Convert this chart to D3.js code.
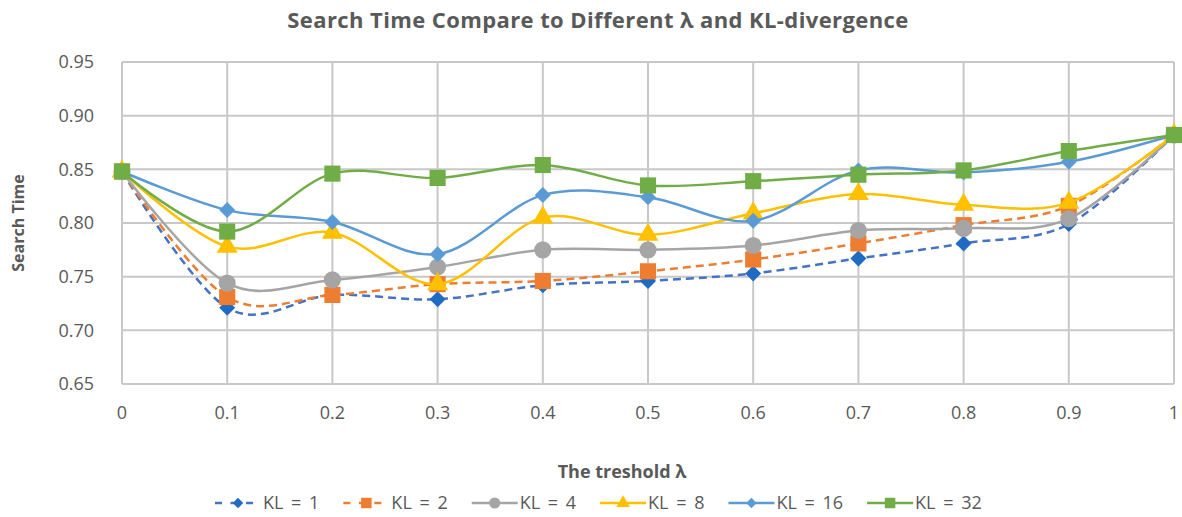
<!DOCTYPE html>
<html>
<head>
<meta charset="utf-8">
<script src="https://cdn.jsdelivr.net/npm/d3@7"></script>
<style>
  body { margin: 0; background: #fff; }
  text { font-family: "Open Sans", "Noto Sans", sans-serif; fill: #595959; }
</style>
</head>
<body>
<script>
    var width = 1182;
    var height = 517;

    var lambdas = [0, 0.1, 0.2, 0.3, 0.4, 0.5, 0.6, 0.7, 0.8, 0.9, 1];
    var xTickLabels = ["0", "0.1", "0.2", "0.3", "0.4", "0.5", "0.6", "0.7", "0.8", "0.9", "1"];
    var yTicks = [0.65, 0.70, 0.75, 0.80, 0.85, 0.90, 0.95];

    var kl1  = [0.848, 0.721, 0.733, 0.729, 0.742, 0.746, 0.753, 0.767, 0.781, 0.799, 0.882];
    var kl2  = [0.848, 0.731, 0.733, 0.743, 0.746, 0.755, 0.766, 0.781, 0.798, 0.816, 0.882];
    var kl4  = [0.848, 0.744, 0.747, 0.759, 0.775, 0.775, 0.779, 0.793, 0.795, 0.804, 0.882];
    var kl8  = [0.848, 0.778, 0.791, 0.743, 0.805, 0.789, 0.809, 0.827, 0.817, 0.819, 0.882];
    var kl16 = [0.848, 0.812, 0.801, 0.771, 0.826, 0.824, 0.802, 0.849, 0.847, 0.857, 0.882];
    var kl32 = [0.848, 0.792, 0.846, 0.842, 0.854, 0.835, 0.839, 0.845, 0.849, 0.867, 0.882];

    // name, values, line colour, marker colour, marker shape, dashed?
    var series = [
      {name: "KL = 1",  values: kl1,  color: "#4472C4", mark: "#1F6BC4", shape: "diamond",  dash: true},
      {name: "KL = 2",  values: kl2,  color: "#ED7D31", mark: "#ED7D31", shape: "square",   dash: true},
      {name: "KL = 4",  values: kl4,  color: "#A5A5A5", mark: "#A5A5A5", shape: "circle",   dash: false},
      {name: "KL = 8",  values: kl8,  color: "#FFC000", mark: "#FFC000", shape: "triangle", dash: false},
      {name: "KL = 16", values: kl16, color: "#5B9BD5", mark: "#5B9BD5", shape: "diamond",  dash: false},
      {name: "KL = 32", values: kl32, color: "#70AD47", mark: "#70AD47", shape: "square",   dash: false}
    ];

    var svg = d3.select("body").append("svg")
      .attr("width", width)
      .attr("height", height);

    var x = d3.scaleLinear().domain([0, 1]).range([122, 1174]);
    var y = d3.scaleLinear().domain([0.65, 0.95]).range([384, 62]);

    // gridlines
    var grid = svg.append("g");
    grid.selectAll("line.h").data(yTicks).enter().append("line")
      .attr("x1", x(0)).attr("x2", x(1))
      .attr("y1", function(d){ return y(d); })
      .attr("y2", function(d){ return y(d); })
      .attr("stroke", "#c8c8c8").attr("stroke-width", 2);
    grid.selectAll("line.v").data(lambdas).enter().append("line")
      .attr("x1", function(d){ return x(d); })
      .attr("x2", function(d){ return x(d); })
      .attr("y1", y(0.95)).attr("y2", y(0.65))
      .attr("stroke", "#c8c8c8").attr("stroke-width", 2);

    // tick labels
    svg.append("g").selectAll("text").data(yTicks).enter().append("text")
      .attr("x", 94).attr("y", function(d){ return y(d); })
      .attr("dy", "0.35em").attr("text-anchor", "end")
      .style("font-size", "18px")
      .text(function(d){ return d.toFixed(2); });

    svg.append("g").selectAll("text").data(lambdas).enter().append("text")
      .attr("x", function(d){ return x(d); }).attr("y", 413)
      .attr("dy", "0.35em").attr("text-anchor", "middle")
      .style("font-size", "18px")
      .text(function(d, i){ return xTickLabels[i]; });

    // titles
    svg.append("text")
      .attr("x", 598).attr("y", 20).attr("dy", "0.35em")
      .attr("text-anchor", "middle")
      .style("font-size", "22px").style("font-weight", "bold")
      .style("letter-spacing", "0.4px")
      .text("Search Time Compare to Different λ and KL-divergence");

    svg.append("text")
      .attr("transform", "translate(18," + y(0.80) + ") rotate(-90)")
      .attr("dy", "0.35em").attr("text-anchor", "middle")
      .style("font-size", "16px").style("font-weight", "bold")
      .text("Search Time");

    svg.append("text")
      .attr("x", 622).attr("y", 472).attr("dy", "0.35em")
      .attr("text-anchor", "middle")
      .style("font-size", "18px").style("font-weight", "bold")
      .text("The treshold λ");

    var symbolFor = function(shape, big){
      var s = big ? 1 : 0.65;
      if (shape === "diamond") {
        var r = 8 * s;
        return "M0," + (-r) + "L" + r + ",0L0," + r + "L" + (-r) + ",0Z";
      }
      if (shape === "square") return d3.symbol().type(d3.symbolSquare).size(260 * s * s)();
      if (shape === "circle") return d3.symbol().type(d3.symbolCircle).size(230 * s * s)();
      return d3.symbol().type(d3.symbolTriangle).size(190 * s * s)();
    };

    var line = d3.line()
      .x(function(d, i){ return x(lambdas[i]); })
      .y(function(d){ return y(d); })
      .curve(d3.curveCardinal.tension(0));

    series.forEach(function(s){
      var g = svg.append("g");
      g.append("path")
        .attr("d", line(s.values))
        .attr("fill", "none")
        .attr("stroke", s.color)
        .attr("stroke-width", 2.5)
        .attr("stroke-dasharray", s.dash ? "8,5" : null);
      g.selectAll("path.m").data(s.values).enter().append("path")
        .attr("transform", function(d, i){ return "translate(" + x(lambdas[i]) + "," + y(d) + ")"; })
        .attr("d", symbolFor(s.shape, true))
        .attr("fill", s.mark);
    });

    // legend
    var legend = svg.append("g");
    var lx = 215;
    series.forEach(function(s){
      var item = legend.append("g").attr("transform", "translate(" + lx + ",503)");
      item.append("line")
        .attr("x1", 0).attr("x2", 46).attr("y1", 0).attr("y2", 0)
        .attr("stroke", s.color).attr("stroke-width", 2.5)
        .attr("stroke-dasharray", s.dash ? "7,8.5" : null);
      item.append("path")
        .attr("transform", "translate(23,0)")
        .attr("d", symbolFor(s.shape, false))
        .attr("fill", s.mark);
      var t = item.append("text")
        .attr("x", 48).attr("dy", "0.35em")
        .style("font-size", "18px")
        .style("word-spacing", "3px")
        .text(s.name);
      lx += 48 + t.node().getComputedTextLength() + 24;
    });
</script>
</body>
</html>
